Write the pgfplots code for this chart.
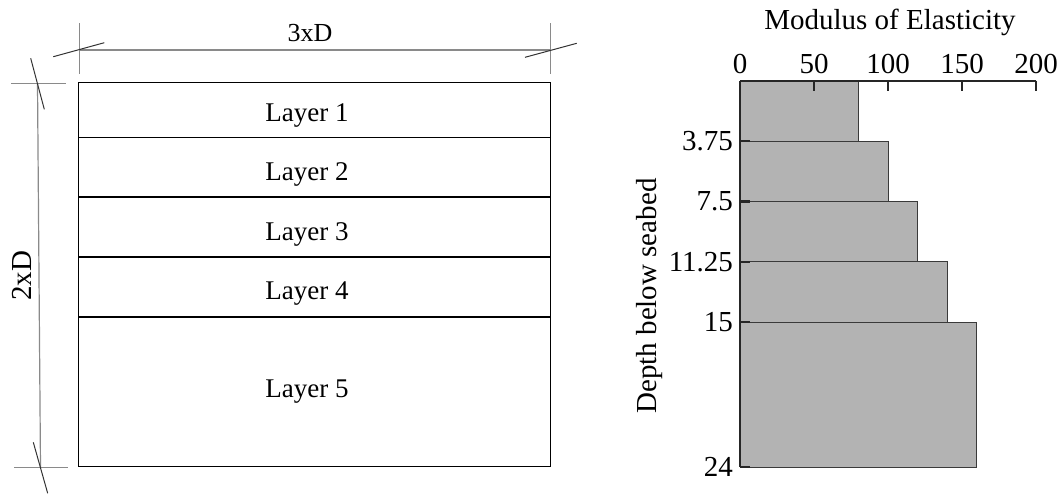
\documentclass[border=0pt]{standalone}
\usepackage{fontspec}
\setmainfont{Liberation Serif}
\usepackage{pgfplots}
\pgfplotsset{compat=1.18}
\definecolor{barfill}{HTML}{B3B3B3}
\definecolor{baredge}{HTML}{3A3A3A}
\definecolor{dimgray}{HTML}{8A8A8A}
\definecolor{slashcol}{HTML}{333333}
\begin{document}
\begin{tikzpicture}
\useasboundingbox (0,0) rectangle (532pt,247pt);
% ---------- schematic (pixel coordinates) ----------
\begin{axis}[at={(0,0)}, anchor=south west, scale only axis,
  width=532pt, height=247pt, xmin=0, xmax=1064, ymin=0, ymax=494,
  y dir=reverse, hide axis, clip=false]
  % soil block and layers
  \draw[black, line width=0.6pt] (78.7,82.7) rectangle (550.7,466.7);
  \draw[black, line width=0.6pt] (78.7,137.3) -- (550.7,137.3);
  \draw[black, line width=0.6pt] (78.7,197) -- (550.7,197);
  \draw[black, line width=0.6pt] (78.7,257) -- (550.7,257);
  \draw[black, line width=0.6pt] (78.7,317) -- (550.7,317);
  \node[anchor=base, font=\fontsize{13.5}{16}\selectfont] at (307,121.5) {Layer 1};
  \node[anchor=base, font=\fontsize{13.5}{16}\selectfont] at (307,180.7) {Layer 2};
  \node[anchor=base, font=\fontsize{13.5}{16}\selectfont] at (307,240.5) {Layer 3};
  \node[anchor=base, font=\fontsize{13.5}{16}\selectfont] at (307,299.5) {Layer 4};
  \node[anchor=base, font=\fontsize{13.5}{16}\selectfont] at (307,397.3) {Layer 5};
  % horizontal dimension 3xD
  \draw[dimgray, line width=0.6pt] (79.3,50) -- (550.7,50);
  \draw[dimgray, line width=0.6pt] (79.3,23.3) -- (79.3,74);
  \draw[dimgray, line width=0.6pt] (550.7,23.3) -- (550.7,74);
  \draw[slashcol, line width=0.5pt] (53.3,56.7) -- (104.3,42.7);
  \draw[slashcol, line width=0.5pt] (525,57.3) -- (576.7,43.3);
  \node[anchor=base, font=\fontsize{13}{15}\selectfont] at (310,41.7) {3xD};
  % vertical dimension 2xD
  \draw[dimgray, line width=0.6pt] (37.5,83.3) -- (40.5,467.7);
  \draw[dimgray, line width=0.6pt] (11,83.3) -- (65.7,83.3);
  \draw[dimgray, line width=0.6pt] (14,467.7) -- (68.3,467.7);
  \draw[slashcol, line width=0.5pt] (30.7,58.3) -- (44.3,109.3);
  \draw[slashcol, line width=0.5pt] (33.3,442.3) -- (47.7,493.3);
  \node[anchor=base, rotate=90, font=\fontsize{14.5}{17}\selectfont] at (31.5,276) {2xD};
  % chart titles
  \node[anchor=base, font=\fontsize{14.5}{17}\selectfont] at (890,29) {Modulus of Elasticity};
  \node[anchor=base, rotate=90, font=\fontsize{14.5}{17}\selectfont] at (656,296) {Depth below seabed};
\end{axis}
% ---------- modulus profile ----------
\begin{axis}[at={(370pt,206.65pt)}, anchor=north west, scale only axis,
  width=148pt, height=193.15pt,
  xmin=0, xmax=200, ymin=0, ymax=24, y dir=reverse,
  axis x line=top, axis y line=left,
  axis line style={-, line width=1.2pt, black!85},
  xtick={0,50,100,150,200}, xticklabels={0,50,100,150,200},
  ytick={3.75,7.5,11.25,15,24}, yticklabels={3.75,7.5,11.25,15,24},
  tick align=inside, major tick length=5pt,
  tick style={line width=1.2pt, black!85},
  ticklabel style={font=\fontsize{14.5}{17}\selectfont},
  axis on top, clip=false]
  \addplot[fill=barfill, draw=baredge, line width=0.5pt, mark=none] coordinates {(0,0) (80,0) (80,3.75) (0,3.75)} -- cycle;
  \addplot[fill=barfill, draw=baredge, line width=0.5pt, mark=none] coordinates {(0,3.75) (100,3.75) (100,7.5) (0,7.5)} -- cycle;
  \addplot[fill=barfill, draw=baredge, line width=0.5pt, mark=none] coordinates {(0,7.5) (120,7.5) (120,11.25) (0,11.25)} -- cycle;
  \addplot[fill=barfill, draw=baredge, line width=0.5pt, mark=none] coordinates {(0,11.25) (140,11.25) (140,15) (0,15)} -- cycle;
  \addplot[fill=barfill, draw=baredge, line width=0.5pt, mark=none] coordinates {(0,15) (160,15) (160,24) (0,24)} -- cycle;
\end{axis}
\end{tikzpicture}
\end{document}
